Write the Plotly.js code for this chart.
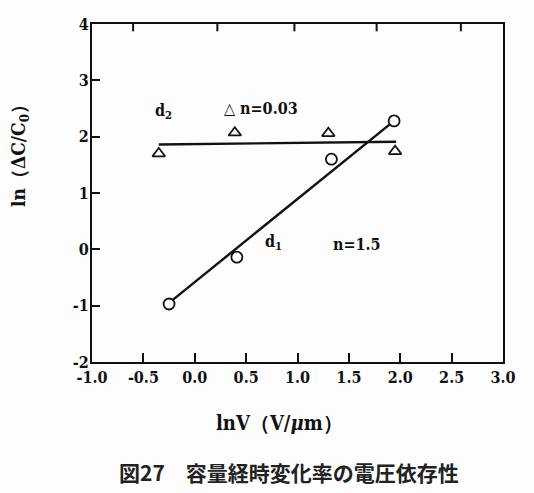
<!DOCTYPE html>
<html>
<head>
<meta charset="utf-8">
<script src="https://cdn.plot.ly/plotly-3.0.1.min.js"></script>
<style>html,body{margin:0;padding:0;background:#fff;}</style>
</head>
<body>
<div id="chart" style="width:534px;height:493px;"></div>
<script>
// Data
const circleX = [-0.25, 0.41, 1.33, 1.94];
const circleY = [-0.97, -0.14, 1.60, 2.28];
const triangleX = [-0.35, 0.39, 1.30, 1.95];
const triangleY = [1.70, 2.07, 2.06, 1.74];
const fitD1X = [-0.25, 1.94];
const fitD1Y = [-0.95, 2.28];
const fitD2X = [-0.35, 1.96];
const fitD2Y = [1.86, 1.91];
const topTickVals = [-0.6, 0.22, 0.97, 1.77, 2.59];
const xTickVals = [-1.0, -0.5, 0.0, 0.5, 1.0, 1.5, 2.0, 2.5, 3.0];
const xTickText = ['-1.0', '-0.5', '0.0', '0.5', '1.0', '1.5', '2.0', '2.5', '3.0'];
const yTickVals = [-2, -1, 0, 1, 2, 3, 4];
const yTickText = ['-2', '-1', '0', '1', '2', '3', '4'];
const xRange = [-1, 3];
const yRange = [-2, 4];

const serif = 'DejaVu Serif Condensed, DejaVu Serif, serif';
const topTickLen = 0.13; // length of the top-frame tick marks, in y units (style)

// top-frame tick segments built from the tick values
const topTickSegX = topTickVals.flatMap(v => [v, v, null]);
const topTickSegY = topTickVals.flatMap(() => [yRange[1], yRange[1] - topTickLen, null]);

const traces = [
  {x: fitD2X, y: fitD2Y, mode: 'lines', line: {color: '#111', width: 2.4}, showlegend: false, hoverinfo: 'skip'},
  {x: fitD1X, y: fitD1Y, mode: 'lines', line: {color: '#111', width: 2.4}, showlegend: false, hoverinfo: 'skip'},
  {x: triangleX, y: triangleY, mode: 'markers', showlegend: false,
   marker: {symbol: 'triangle-up', size: 11, color: 'white', line: {color: '#111', width: 1.8}}},
  {x: circleX, y: circleY, mode: 'markers', showlegend: false,
   marker: {symbol: 'circle', size: 11, color: 'white', line: {color: '#111', width: 1.8}}},
  {x: topTickSegX, y: topTickSegY, mode: 'lines', connectgaps: false,
   line: {color: '#111', width: 2}, showlegend: false, hoverinfo: 'skip'}
];

const tickFont = {family: serif, size: 16, color: '#111', weight: 'bold'};
const labFont = {family: serif, size: 16, color: '#111', weight: 'bold'};

const layout = {
  width: 534, height: 493,
  margin: {l: 92, r: 31, t: 24, b: 131},
  paper_bgcolor: '#fdfdfd', plot_bgcolor: '#fdfdfd',
  showlegend: false,
  xaxis: {
    range: xRange, tickvals: xTickVals, ticktext: xTickText,
    ticks: 'inside', ticklen: 9, tickwidth: 2, tickcolor: '#111',
    showline: true, linewidth: 2, linecolor: '#111', mirror: true,
    showgrid: false, zeroline: false, tickfont: tickFont
  },
  yaxis: {
    range: yRange, tickvals: yTickVals, ticktext: yTickText,
    ticks: 'inside', ticklen: 8, tickwidth: 2, tickcolor: '#111',
    showline: true, linewidth: 2, linecolor: '#111', mirror: true,
    showgrid: false, zeroline: false, tickfont: tickFont, ticklabelstandoff: -2
  },
  annotations: [
    {x: -0.3, y: 2.44, xref: 'x', yref: 'y', text: 'd<sub>2</sub>', showarrow: false, font: labFont},
    {x: 0.27, y: 2.50, xref: 'x', yref: 'y', xanchor: 'left', text: '△ n=0.03', showarrow: false, font: labFont},
    {x: 0.77, y: 0.12, xref: 'x', yref: 'y', text: 'd<sub>1</sub>', showarrow: false, font: labFont},
    {x: 1.58, y: 0.08, xref: 'x', yref: 'y', text: 'n=1.5', showarrow: false, font: labFont},
    {x: 0.455, y: -0.18, xref: 'paper', yref: 'paper', xanchor: 'center', yanchor: 'middle',
     text: 'lnV（V/<i>μ</i>m）', showarrow: false,
     font: {family: serif, size: 20, color: '#111', weight: 'bold'}},
    {x: -0.178, y: 0.624, xref: 'paper', yref: 'paper', xanchor: 'center', yanchor: 'middle',
     text: 'ln（ΔC/C<sub>0</sub>）', textangle: -90, showarrow: false,
     font: {family: serif, size: 19, color: '#111', weight: 'bold'}},
    {x: 0.479, y: -0.325, xref: 'paper', yref: 'paper', xanchor: 'center', yanchor: 'middle',
     text: '図27　容量経時変化率の電圧依存性', showarrow: false,
     font: {family: 'Noto Sans CJK JP, sans-serif', size: 21, color: '#222', weight: 'bold'}}
  ]
};

Plotly.newPlot('chart', traces, layout, {displayModeBar: false, staticPlot: true});
</script>
</body>
</html>
